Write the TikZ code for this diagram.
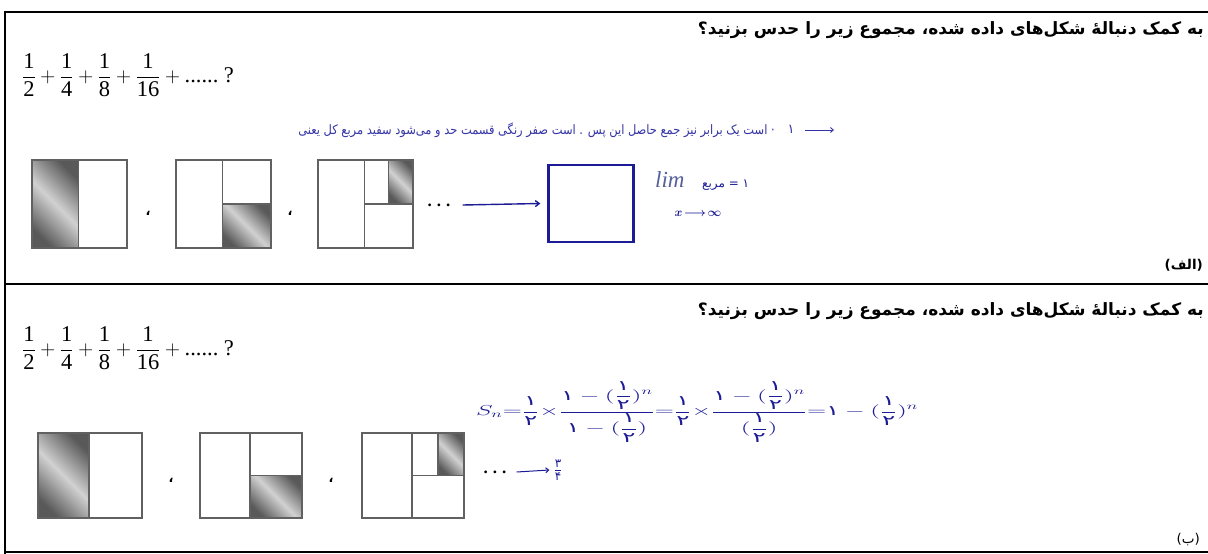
\documentclass[tikz,border=0pt]{standalone}
\usepackage{amsmath}
\usepackage{graphicx}
\usepackage{fontspec}
\setmainfont{Liberation Serif}
\newfontfamily\fa[Script=Arabic]{DejaVu Sans}
\TeXXeTstate=1
\usetikzlibrary{arrows.meta}
\definecolor{ink}{HTML}{1C1C96}
\definecolor{inkl}{HTML}{3434A6}
\definecolor{limc}{HTML}{56609A}
\newcommand\tf[2]{\frac{\text{#1}}{\text{#2}}}
\newcommand\pI{\text{\fa ۱}}
\newcommand\pII{\text{\fa ۲}}
\newcommand\hfr{\dfrac{\pI}{\pII}}
\newcommand\hw[1]{\mbox{#1}}
\newcommand\seriesline{$\displaystyle\tf{1}{2}+\tf{1}{4}+\tf{1}{8}+\tf{1}{16}+\text{......\ ?}$}
\newcommand\headtext{\beginR به کمک دنبالهٔ  شکل‌های داده شده، مجموع زیر را حدس بزنید؟\endR}
\tikzset{
  frame/.style={line width=2.3pt},
  sqline/.style={draw=black!62, line width=1.3pt},
  shd/.style={left color=black!65, right color=black!65, middle color=black!18, shading angle=135},
  head/.style={anchor=east, inner sep=0pt, font=\fa\bfseries\fontsize{17}{20}\selectfont},
  series/.style={anchor=west, inner sep=0pt, font=\fontsize{22.5}{25}\selectfont},
  hand/.style={inner sep=0pt, text=inkl, font=\fa\fontsize{13}{14}\selectfont},
  comma/.style={inner sep=0pt, font=\fa\bfseries\fontsize{13}{14}\selectfont},
  dots/.style={inner sep=0pt, font=\bfseries\fontsize{17}{18}\selectfont},
  harrow/.style={draw=ink, line width=1.4pt, -{Straight Barb[length=4pt,width=6pt]}},
  label/.style={anchor=east, inner sep=0pt, font=\fa\bfseries\fontsize{13.5}{16}\selectfont},
  pics/sqone/.style={code={
    \shade[shd] (0,0) rectangle (0.49,1);
    \draw[sqline] (0,0) rectangle (1,1) (0.49,0) -- (0.49,1);
  }},
  pics/sqtwo/.style={code={
    \shade[shd] (0.49,0.5) rectangle (1,1);
    \draw[sqline] (0,0) rectangle (1,1) (0.49,0) -- (0.49,1) (0.49,0.5) -- (1,0.5);
  }},
  pics/sqthree/.style={code={
    \shade[shd] (0.745,0) rectangle (1,0.5);
    \draw[sqline] (0,0) rectangle (1,1) (0.49,0) -- (0.49,1) (0.49,0.5) -- (1,0.5) (0.745,0) -- (0.745,0.5);
  }}
}
\begin{document}
\begin{tikzpicture}[x=1pt,y=-1pt]
\useasboundingbox (0,0) rectangle (1208,554);
\fill[white] (0,0) rectangle (1208,554);
% frame
\draw[frame] (1208,12) -- (5,12) -- (5,554);
\draw[frame] (5,284) -- (1208,284);
\draw[frame] (5,552) -- (1208,552);

% ---------- panel A ----------
\node[head] (hA) at (1204,30) {\headtext};
\node[series] (sA) at (22,75) {\seriesline};
\node[hand, anchor=east] (tA) at (775,130) {\scalebox{0.88}[1]{\hw{یعنی} \hw{کل} \hw{مربع} \hw{سفید} \hw{می‌شود} \hw{و} \hw{حد} \hw{قسمت} \hw{رنگی} \hw{صفر} \hw{است} . \hw{پس} \hw{این} \hw{حاصل} \hw{جمع} \hw{نیز} \hw{برابر} \hw{یک} \hw{است} ·}};
\node[hand] (oA) at (791,129) {۱};
\coordinate (aAs) at (805,130);
\coordinate (aAe) at (834,130);
\draw[draw=inkl, line width=0.9pt, -{Straight Barb[length=3pt,width=5pt]}] (aAs) -- (aAe);

\begin{scope}[shift={(32,160)}, x=95pt, y=-88pt] \pic (a1) {sqone}; \end{scope}
\node[comma] (cA1) at (148,213) {،};
\begin{scope}[shift={(176,160)}, x=95pt, y=-88pt] \pic (a2) {sqtwo}; \end{scope}
\node[comma] (cA2) at (290,213) {،};
\begin{scope}[shift={(318,160)}, x=95pt, y=-88pt] \pic (a3) {sqthree}; \end{scope}
\node[dots] (dA) at (439,205) {.\hspace{5pt}.\hspace{5pt}.};
\node[draw=ink, line width=2.2pt, minimum width=85pt, minimum height=77pt, inner sep=0pt] (bA) at (591,203.5) {};
\draw[harrow] ([xshift=12pt]dA.east) -- ([xshift=-7pt]bA.west);
\node[inner sep=0pt, text=limc, font=\itshape\fontsize{23}{24}\selectfont, anchor=west] (lim) at (655,180) {lim};
\node[inner sep=0pt, text=ink, font=\fa\fontsize{12}{13}\selectfont, anchor=west] (eqA) at (702,185) {\hw{مربع} = ۱};
\node[inner sep=0pt, text=ink, font=\fontsize{12}{13}\selectfont] (xinf) at (698,214) {$\boldsymbol{x\!\longrightarrow\!\infty}$};
\node[label] (lA) at (1203,265) {\beginR(الف)\endR};

% ---------- panel B ----------
\node[head] (hB) at (1204,311) {\headtext};
\node[series] (sB) at (22,348) {\seriesline};
\node[inner sep=0pt, text=ink, font=\fontsize{14}{16}\selectfont, anchor=west] (sn) at (476,412)
  {\scalebox{1.75}[1]{$\displaystyle S_{n}{=}\frac{\pI}{\pII}{\times}\frac{\pI-(\hfr)^{n}}{\pI-(\hfr)}{=}\frac{\pI}{\pII}{\times}\frac{\pI-(\hfr)^{n}}{(\hfr)}{=}\pI-(\hfr)^{n}$}};

\begin{scope}[shift={(38,433)}, x=104pt, y=-85pt] \pic (b1) {sqone}; \end{scope}
\node[comma] (cB1) at (171,480) {،};
\begin{scope}[shift={(200,433)}, x=102pt, y=-85pt] \pic (b2) {sqtwo}; \end{scope}
\node[comma] (cB2) at (331,480) {،};
\begin{scope}[shift={(362,433)}, x=102pt, y=-85pt] \pic (b3) {sqthree}; \end{scope}
\node[dots] (dB) at (495,472) {.\hspace{5pt}.\hspace{5pt}.};
\node[inner sep=0pt, text=ink, font=\fa\fontsize{17}{18}\selectfont] (fB) at (558,470) {$\frac{\text{\fa ۳}}{\text{\fa ۴}}$};
\draw[draw=ink, line width=1pt, -{Straight Barb[length=3pt,width=5pt]}] ([xshift=10pt]dB.east) -- ([xshift=-4pt]fB.west);
\node[label, font=\fa\fontsize{13.5}{16}\selectfont] (lB) at (1200,540) {\beginR(ب)\endR};
\end{tikzpicture}
\end{document}
